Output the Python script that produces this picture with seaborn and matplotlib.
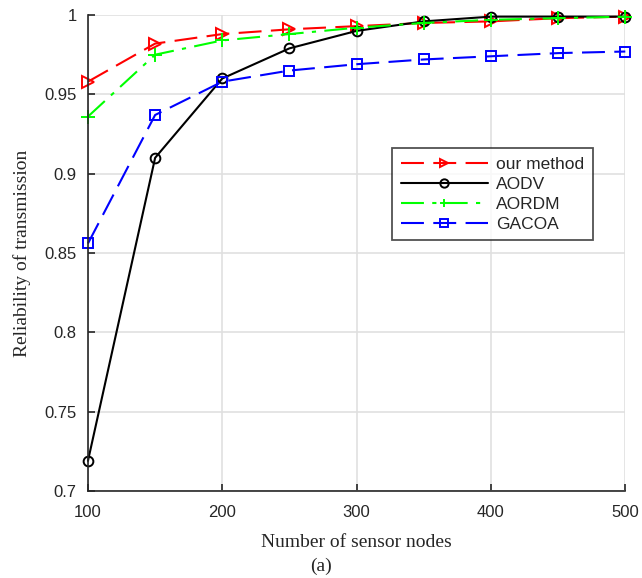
import matplotlib
matplotlib.use("Agg")
import matplotlib.pyplot as plt
import seaborn as sns
import numpy as np

nodes = [100, 150, 200, 250, 300, 350, 400, 450, 500]
our_method = [0.958, 0.982, 0.988, 0.991, 0.993, 0.995, 0.996, 0.998, 0.999]
aodv = [0.719, 0.910, 0.960, 0.979, 0.990, 0.996, 0.999, 0.999, 0.999]
aordm = [0.936, 0.975, 0.984, 0.988, 0.992, 0.995, 0.997, 0.998, 0.999]
gacoa = [0.856, 0.937, 0.958, 0.965, 0.969, 0.972, 0.974, 0.976, 0.977]

x_ticks = [100, 200, 300, 400, 500]
y_ticks = [0.7, 0.75, 0.8, 0.85, 0.9, 0.95, 1.0]
y_labels = ["0.7", "0.75", "0.8", "0.85", "0.9", "0.95", "1"]

sns.set_theme(style="white")
plt.rcParams['font.family'] = ['Liberation Sans', 'DejaVu Sans']

fig = plt.figure(figsize=(6.42, 5.78), dpi=100)
ax = fig.add_axes([0.137, 0.1505, 0.837, 0.8235])

series = [
    ("our method", our_method, "#ff0000", ">", (0, (11, 4.5)), 8),
    ("AODV", aodv, "#000000", "o", "-", 7),
    ("AORDM", aordm, "#00ff00", "+", (0, (11, 4, 2, 4)), 10),
    ("GACOA", gacoa, "#0000ff", "s", (0, (11, 4.5)), 6.5),
]
for name, vals, col, mk, ls, ms in series:
    sns.lineplot(x=nodes, y=vals, ax=ax, color=col, marker=mk, linestyle=ls,
                 markerfacecolor="none", markeredgecolor=col, markeredgewidth=1.4,
                 markersize=ms, linewidth=1.5, label=name, clip_on=False)

ax.set_xlim(100, 500)
ax.set_ylim(0.7, 1.0)
ax.set_xticks(x_ticks)
ax.set_yticks(y_ticks)
ax.set_yticklabels(y_labels)
ax.grid(True, color="#e0e0e0", linewidth=1.2)
ax.set_axisbelow(True)
for s in ["top", "right"]:
    ax.spines[s].set_visible(False)
for s in ["left", "bottom"]:
    ax.spines[s].set_color("#262626")
    ax.spines[s].set_linewidth(1.2)
ax.tick_params(direction="in", length=5, width=1.2, color="#262626",
               labelsize=12, labelcolor="#262626", left=True, bottom=True)
ax.tick_params(axis="x", pad=10)
ax.tick_params(axis="y", pad=8)

ax.set_xlabel("Number of sensor nodes", family="Liberation Serif", fontsize=14, labelpad=10)
ax.set_ylabel("Reliability of transmission", family="Liberation Serif", fontsize=14, labelpad=10)
fig.text(0.5, 0.02, "(a)", family="Liberation Serif", fontsize=14, ha="center", va="center")

leg = ax.legend(loc="upper left", bbox_to_anchor=(0.566, 0.72), frameon=True, fancybox=False,
                edgecolor="#262626", fontsize=12.5, handlelength=5.0, borderpad=0.5,
                labelspacing=0.27, handletextpad=0.5, borderaxespad=0)
leg.get_frame().set_linewidth(1.3)
for h in leg.get_lines():
    h.set_markersize(6)

fig.savefig("out.png", dpi=100)
